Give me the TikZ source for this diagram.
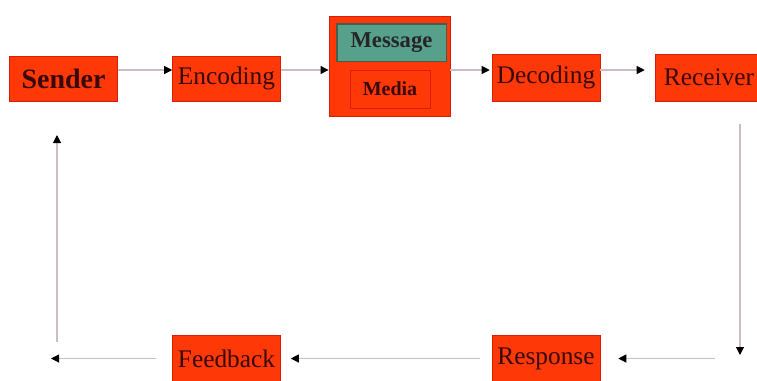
\documentclass[tikz,border=0pt]{standalone}
\usepackage{fontspec}
\setmainfont{Liberation Serif}
\usetikzlibrary{arrows.meta,positioning}
\definecolor{boxred}{RGB}{255,56,8}
\definecolor{edgered}{RGB}{215,30,10}
\definecolor{msgteal}{RGB}{86,160,140}
\definecolor{msgedge}{RGB}{70,95,75}
\definecolor{inkdark}{RGB}{55,10,10}
\definecolor{linegray}{RGB}{205,188,198}

\begin{document}
\begin{tikzpicture}[x=0.75pt,y=-0.75pt]
      \useasboundingbox (0,0) rectangle (757,380);
      \clip (0,0) rectangle (757,380);
      \begin{scope}[every node/.style={rectangle,draw=edgered,fill=boxred,text=inkdark,
        font=\fontsize{19}{22}\selectfont,minimum width=81pt,minimum height=35pt,inner sep=0pt}]
        \node (S) at (63.5,78.5) [minimum height=34pt,font=\fontsize{21}{24}\selectfont\bfseries] {Sender};
        \node (E) at (226.5,78.5) [minimum height=34pt] {Encoding};
        \node (C) at (389.5,66) [minimum width=91pt,minimum height=75pt] {};
        \node (M) at (391.5,42.5) [fill=msgteal,draw=msgedge,line width=1pt,text=black!85,
          minimum width=82pt,minimum height=28pt,font=\fontsize{17}{20}\selectfont\bfseries] {Message};
        \node (Md) at (390,89) [minimum width=60pt,minimum height=28.5pt,
          font=\fontsize{15}{18}\selectfont\bfseries] {Media};
        \node (D) at (546,77.5) {Decoding};
        \node (R) at (709,77.5) {Receiver};
        \node (P) at (546,358.5) {Response};
        \node (F) at (226.5,358.5) {Feedback};
      \end{scope}
      \coordinate (row) at (0,70);
      \coordinate (r1) at (740,124);
      \coordinate (r2) at (740,355);
      \coordinate (r3) at (715,358.5);
      \coordinate (l1) at (51,358.5);
      \coordinate (l2) at (57,342);
      \coordinate (l3) at (57,135);
      \begin{scope}
        [every edge/.style={draw=linegray,line width=0.8pt,
          -{Triangle[color=black,length=6pt,width=6pt]}}]
        \path (S.east |- row) edge (E.west |- row);
        \path (E.east |- row) edge (C.west |- row);
        \path (C.east |- row) edge[shorten >=1.5pt] (D.west |- row);
        \path (D.east |- row) edge[shorten >=7.5pt] (R.west |- row);
        \path (r1) edge (r2);
        \path (r3) edge[shorten >=13.5pt] (P.east);
        \path (P.west) edge[shorten <=9pt,shorten >=7.5pt] (F.east);
        \path (F.west) edge[shorten <=12pt] (l1);
        \path (l2) edge (l3);
      \end{scope}
    \end{tikzpicture}
\end{document}
